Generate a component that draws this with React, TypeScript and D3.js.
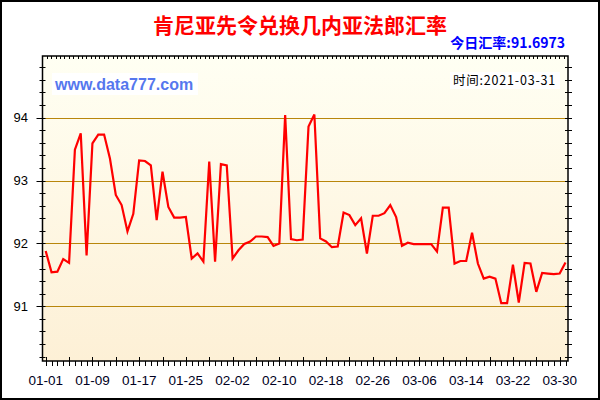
import * as d3 from 'd3';
import { useEffect, useRef } from 'react';

// Kenyan shilling -> Guinean franc, daily, 2021-01-01 .. 2021-03-31
const startDay = '2021-01-01';
const endDay = '2021-03-31';
const rates = [
  91.88, 91.54, 91.55, 91.75, 91.69, 93.49, 93.75, 91.81, 93.59, 93.73,
  93.73, 93.35, 92.77, 92.61, 92.19, 92.47, 93.32, 93.31, 93.24, 92.37,
  93.14, 92.58, 92.41, 92.41, 92.42, 91.76, 91.84, 91.71, 93.3, 91.71,
  93.26, 93.24, 91.76, 91.89, 91.99, 92.03, 92.11, 92.11, 92.1, 91.96,
  92.0, 94.04, 92.07, 92.05, 92.06, 93.86, 94.05, 92.08, 92.03, 91.94,
  91.95, 92.49, 92.45, 92.29, 92.4, 91.84, 92.44, 92.44, 92.48, 92.61,
  92.42, 91.96, 92.01, 91.99, 91.99, 91.99, 91.99, 91.87, 92.57, 92.57,
  91.68, 91.72, 91.72, 92.17, 91.68, 91.44, 91.47, 91.44, 91.05, 91.05,
  91.66, 91.06, 91.69, 91.68, 91.23, 91.53, 91.52, 91.51, 91.52, 91.6973,
];
const xTickLabels = [
  '01-01', '01-09', '01-17', '01-25', '02-02', '02-10',
  '02-18', '02-26', '03-06', '03-14', '03-22', '03-30',
];
const yTickValues = [91, 92, 93, 94];

const title = '肯尼亚先令兑换几内亚法郎汇率';
const todayText = '今日汇率:91.6973';
const siteText = 'www.data777.com';
const timeText = '时间:2021-03-31';

const W = 600;
const H = 400;

export default function App() {
  const svgRef = useRef<SVGSVGElement>(null);

  useEffect(() => {
    if (!svgRef.current) return;
    const svg = d3.select(svgRef.current);
    svg.selectAll('*').remove();

    const plot = { left: 42.5, right: 568, top: 56, bottom: 361 };
    const parse = d3.timeParse('%Y-%m-%d');
    const start = parse(startDay) as Date;
    const end = parse(endDay) as Date;
    const dates = rates.map((_, i) => d3.timeDay.offset(start, i));

    const x = d3.scaleTime().domain([start, end]).range([45.7, 565.5]);
    const y = d3.scaleLinear().domain([90.13, 94.98]).range([plot.bottom, plot.top]);

    // frame
    svg.append('rect')
      .attr('x', 1).attr('y', 1).attr('width', W - 2).attr('height', H - 2)
      .attr('fill', '#fff').attr('stroke', '#000').attr('stroke-width', 2);

    // plot background gradient
    const grad = svg.append('defs').append('linearGradient')
      .attr('id', 'bg').attr('x1', 0).attr('y1', 0).attr('x2', 0).attr('y2', 1);
    grad.append('stop').attr('offset', '0%').attr('stop-color', '#FFFFF3');
    grad.append('stop').attr('offset', '100%').attr('stop-color', '#FDF0D6');
    svg.append('rect')
      .attr('x', plot.left).attr('y', plot.top)
      .attr('width', plot.right - plot.left).attr('height', plot.bottom - plot.top)
      .attr('fill', 'url(#bg)');

    // grid lines
    svg.append('g').selectAll('line').data(yTickValues).join('line')
      .attr('x1', plot.left).attr('x2', plot.right)
      .attr('y1', (d) => Math.round(y(d)) + 0.5).attr('y2', (d) => Math.round(y(d)) + 0.5)
      .attr('stroke', '#B8860B').attr('stroke-width', 1);

    // plot border
    svg.append('rect')
      .attr('x', plot.left).attr('y', plot.top)
      .attr('width', plot.right - plot.left).attr('height', plot.bottom - plot.top)
      .attr('fill', 'none').attr('stroke', '#000').attr('stroke-width', 1.5);

    // y ticks (every 0.2) on left and right
    const yTicks = d3.range(90.2, 94.9, 0.2);
    const isMajor = (v: number) => Math.abs(v - Math.round(v)) < 0.01;
    svg.append('g').selectAll('line').data(yTicks).join('line')
      .attr('x1', (d) => (isMajor(d) ? plot.left - 6 : plot.left - 3))
      .attr('x2', plot.left + 3)
      .attr('y1', (d) => Math.round(y(d)) + 0.5).attr('y2', (d) => Math.round(y(d)) + 0.5)
      .attr('stroke', '#000');
    svg.append('g').selectAll('line').data(yTicks).join('line')
      .attr('x1', plot.right - 3).attr('x2', plot.right + 4)
      .attr('y1', (d) => Math.round(y(d)) + 0.5).attr('y2', (d) => Math.round(y(d)) + 0.5)
      .attr('stroke', '#000');

    svg.append('g').selectAll('text').data(yTickValues).join('text')
      .attr('x', 28).attr('y', (d) => y(d) + 4.5)
      .attr('text-anchor', 'end')
      .attr('font-family', 'Liberation Sans, Arial, sans-serif')
      .attr('font-size', 13).attr('fill', '#000')
      .text((d) => d);

    // top minor ticks (inward)
    const topScale = d3.scaleLinear().domain([0, 120]).range([plot.left, plot.right]);
    svg.append('g').selectAll('line').data(d3.range(1, 120)).join('line')
      .attr('x1', (d) => Math.round(topScale(d)) + 0.5).attr('x2', (d) => Math.round(topScale(d)) + 0.5)
      .attr('y1', plot.top).attr('y2', plot.top + 3)
      .attr('stroke', '#000');

    // bottom ticks: daily, taller every 4 days
    svg.append('g').selectAll('line').data(dates).join('line')
      .attr('x1', (d) => Math.round(x(d)) + 0.5).attr('x2', (d) => Math.round(x(d)) + 0.5)
      .attr('y1', (_, i) => (i % 4 === 0 ? plot.bottom - 4 : plot.bottom))
      .attr('y2', plot.bottom + 5)
      .attr('stroke', '#000');

    svg.append('g').selectAll('text').data(xTickLabels).join('text')
      .attr('x', (d) => x(parse('2021-' + d) as Date))
      .attr('y', 385)
      .attr('text-anchor', 'middle')
      .attr('font-family', 'Liberation Sans, Arial, sans-serif')
      .attr('font-size', 13.5).attr('fill', '#000022')
      .text((d) => d);

    // data line
    const line = d3.line<number>()
      .x((_, i) => x(dates[i]))
      .y((d) => y(d));
    svg.append('path').datum(rates)
      .attr('fill', 'none').attr('stroke', '#FF0000')
      .attr('stroke-width', 2.2).attr('stroke-linejoin', 'miter')
      .attr('d', line);

    // titles
    svg.append('text')
      .attr('x', 300).attr('y', 33).attr('text-anchor', 'middle')
      .attr('font-family', 'Noto Sans CJK SC, sans-serif')
      .attr('font-weight', 'bold').attr('font-size', 21).attr('fill', '#FF0000')
      .text(title);
    svg.append('text')
      .attr('x', 565).attr('y', 48).attr('text-anchor', 'end')
      .attr('font-family', 'Noto Sans CJK SC, sans-serif')
      .attr('font-weight', 'bold').attr('font-size', 14).attr('fill', '#0000FF')
      .text(todayText);

    // site and date labels on white boxes
    const site = svg.append('g');
    site.append('rect').attr('x', 52).attr('y', 73).attr('width', 146).attr('height', 22).attr('fill', '#fff');
    site.append('text')
      .attr('x', 55).attr('y', 90)
      .attr('font-family', 'Liberation Sans, Arial, sans-serif')
      .attr('font-weight', 'bold').attr('font-size', 16).attr('fill', '#5577EE')
      .text(siteText);

    const time = svg.append('g');
    time.append('rect').attr('x', 450).attr('y', 72).attr('width', 110).attr('height', 17).attr('fill', '#fff');
    time.append('text')
      .attr('x', 556).attr('y', 85).attr('text-anchor', 'end')
      .attr('font-family', 'Noto Sans CJK SC, sans-serif')
      .attr('font-size', 12.5).attr('letter-spacing', 0.8).attr('fill', '#000')
      .text(timeText);
  }, []);

  return (
    <div>
      <style>{'body{margin:0}'}</style>
      <svg ref={svgRef} width={W} height={H} style={{ display: 'block' }} />
    </div>
  );
}
